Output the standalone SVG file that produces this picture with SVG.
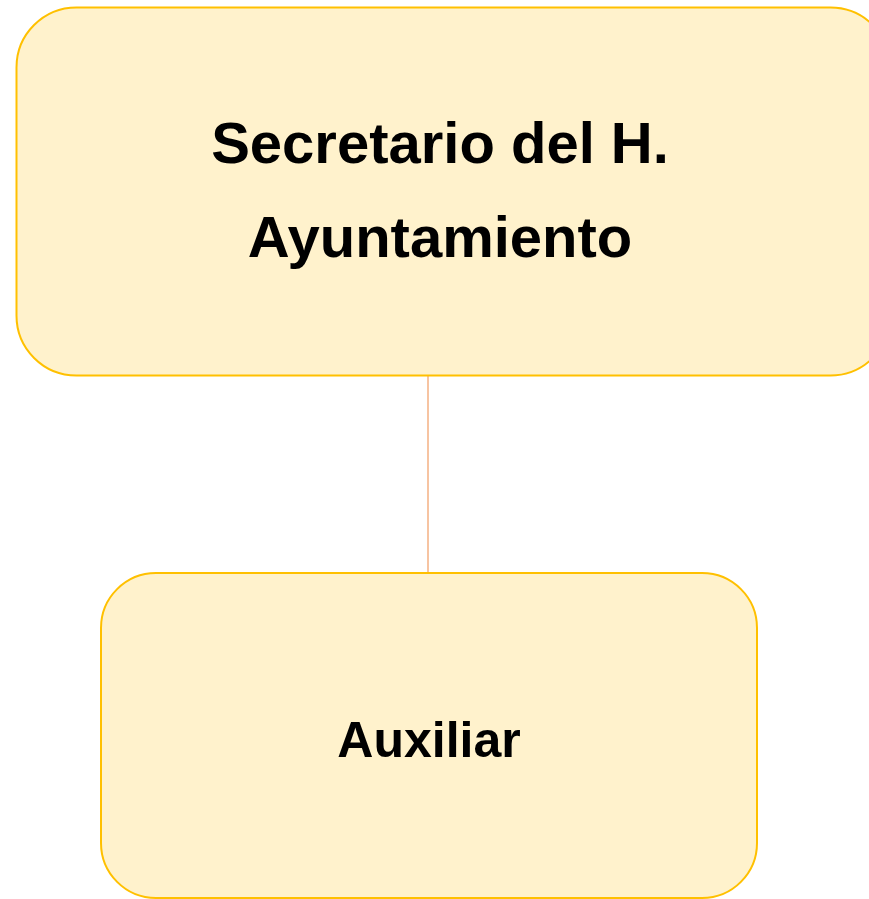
<svg xmlns="http://www.w3.org/2000/svg" width="869" height="899" viewBox="0 0 869 899">
<style>
.box{fill:#FFF2CC;stroke:#FFC000;stroke-width:2}
.lbl{font-family:"Liberation Sans",Arial,sans-serif;font-weight:bold;fill:#000;text-anchor:middle}
.conn{stroke:#F4B183;stroke-width:1.5;fill:none}
</style>
<rect width="869" height="899" fill="#fff"/>
<g id="connectors">
<line class="conn" x1="428" y1="375" x2="428" y2="573"/>
</g>
<g id="node-secretario">
<rect class="box" x="16.5" y="7.5" width="874" height="368" rx="60" ry="60"/>
<text class="lbl" x="440" y="163" font-size="58">Secretario del H.</text>
<text class="lbl" x="440" y="257" font-size="58">Ayuntamiento</text>
</g>
<g id="node-auxiliar">
<rect class="box" x="101" y="573" width="656" height="325" rx="55" ry="55"/>
<text class="lbl" x="429" y="757" font-size="50">Auxiliar</text>
</g>
</svg>
